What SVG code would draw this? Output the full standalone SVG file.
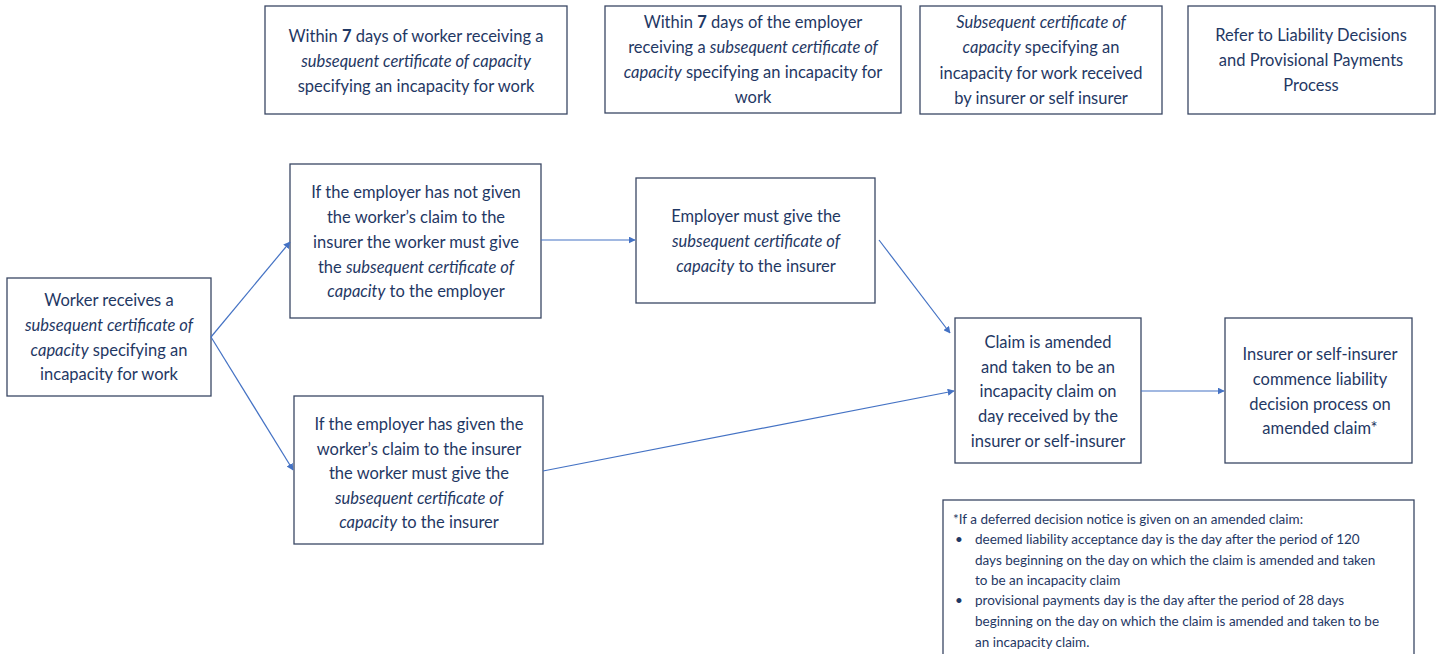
<svg xmlns="http://www.w3.org/2000/svg" width="1442" height="654" viewBox="0 0 1442 654">
  <defs>
    <marker id="arrow" viewBox="0 0 10 10" refX="9" refY="5" markerWidth="7" markerHeight="7" markerUnits="userSpaceOnUse" orient="auto">
      <path d="M0,0 L10,5 L0,10 z" fill="#4472c4"/>
    </marker>
    <style>
      .box { fill: #ffffff; stroke: #3a4764; stroke-width: 1.3; }
      .t { font-family: Lato, "Liberation Sans", sans-serif; font-size: 16.5px; fill: #1f3864; text-anchor: middle; }
      .n { font-family: Lato, "Liberation Sans", sans-serif; font-size: 13.5px; fill: #1f3864; }
      .i { font-style: italic; }
      .b { font-weight: bold; }
      .edge { stroke: #4472c4; stroke-width: 1.2; fill: none; marker-end: url(#arrow); }
    </style>
  </defs>
  <rect width="1442" height="654" fill="#ffffff"/>

  <!-- timeframe headers -->
  <g id="hdr-worker">
    <rect class="box" x="265" y="6" width="302" height="108"/>
    <text class="t" x="416" y="42">Within <tspan class="b">7</tspan> days of worker receiving a</text>
    <text class="t" x="416" y="67"><tspan class="i">subsequent certificate of capacity</tspan></text>
    <text class="t" x="416" y="92">specifying an incapacity for work</text>
  </g>
  <g id="hdr-employer">
    <rect class="box" x="605" y="6" width="296" height="107"/>
    <text class="t" x="753" y="28">Within <tspan class="b">7</tspan> days of the employer</text>
    <text class="t" x="753" y="53">receiving a <tspan class="i">subsequent certificate of</tspan></text>
    <text class="t" x="753" y="78"><tspan class="i">capacity</tspan> specifying an incapacity for</text>
    <text class="t" x="753" y="103">work</text>
  </g>
  <g id="hdr-insurer">
    <rect class="box" x="920" y="6" width="242" height="108"/>
    <text class="t" x="1041" y="28"><tspan class="i">Subsequent certificate of</tspan></text>
    <text class="t" x="1041" y="53"><tspan class="i">capacity</tspan> specifying an</text>
    <text class="t" x="1041" y="79">incapacity for work received</text>
    <text class="t" x="1041" y="104">by insurer or self insurer</text>
  </g>
  <g id="hdr-refer">
    <rect class="box" x="1188" y="6" width="247" height="108"/>
    <text class="t" x="1311" y="41">Refer to Liability Decisions</text>
    <text class="t" x="1311" y="66">and Provisional Payments</text>
    <text class="t" x="1311" y="91">Process</text>
  </g>

  <!-- process steps -->
  <g id="worker-receives">
    <rect class="box" x="7" y="278" width="204" height="118"/>
    <text class="t" x="109" y="306">Worker receives a</text>
    <text class="t" x="109" y="331"><tspan class="i">subsequent certificate of</tspan></text>
    <text class="t" x="109" y="356"><tspan class="i">capacity</tspan> specifying an</text>
    <text class="t" x="109" y="380">incapacity for work</text>
  </g>
  <g id="not-given">
    <rect class="box" x="290" y="164" width="251" height="154"/>
    <text class="t" x="416" y="198">If the employer has not given</text>
    <text class="t" x="416" y="223">the worker’s claim to the</text>
    <text class="t" x="416" y="248">insurer the worker must give</text>
    <text class="t" x="416" y="273">the <tspan class="i">subsequent certificate of</tspan></text>
    <text class="t" x="416" y="297"><tspan class="i">capacity</tspan> to the employer</text>
  </g>
  <g id="employer-gives">
    <rect class="box" x="636" y="178" width="239" height="125"/>
    <text class="t" x="756" y="222">Employer must give the</text>
    <text class="t" x="756" y="247"><tspan class="i">subsequent certificate of</tspan></text>
    <text class="t" x="756" y="272"><tspan class="i">capacity</tspan> to the insurer</text>
  </g>
  <g id="has-given">
    <rect class="box" x="294" y="396" width="249" height="148"/>
    <text class="t" x="419" y="430">If the employer has given the</text>
    <text class="t" x="419" y="455">worker’s claim to the insurer</text>
    <text class="t" x="419" y="479">the worker must give the</text>
    <text class="t" x="419" y="504"><tspan class="i">subsequent certificate of</tspan></text>
    <text class="t" x="419" y="528"><tspan class="i">capacity</tspan> to the insurer</text>
  </g>
  <g id="claim-amended">
    <rect class="box" x="955" y="318" width="186" height="145"/>
    <text class="t" x="1048" y="348">Claim is amended</text>
    <text class="t" x="1048" y="373">and taken to be an</text>
    <text class="t" x="1048" y="397">incapacity claim on</text>
    <text class="t" x="1048" y="422">day received by the</text>
    <text class="t" x="1048" y="447">insurer or self-insurer</text>
  </g>
  <g id="liability-decision">
    <rect class="box" x="1225" y="318" width="187" height="145"/>
    <text class="t" x="1320" y="360">Insurer or self-insurer</text>
    <text class="t" x="1320" y="385">commence liability</text>
    <text class="t" x="1320" y="410">decision process on</text>
    <text class="t" x="1320" y="434">amended claim*</text>
  </g>

  <!-- footnote -->
  <g id="footnote">
    <rect class="box" x="943" y="500" width="471" height="160"/>
    <text class="n" x="953" y="524">*If a deferred decision notice is given on an amended claim:</text>
    <text class="n" x="955" y="544">•</text>
    <text class="n" x="975" y="544">deemed liability acceptance day is the day after the period of 120</text>
    <text class="n" x="975" y="565">days beginning on the day on which the claim is amended and taken</text>
    <text class="n" x="975" y="585">to be an incapacity claim</text>
    <text class="n" x="955" y="605">•</text>
    <text class="n" x="975" y="605">provisional payments day is the day after the period of 28 days</text>
    <text class="n" x="975" y="626">beginning on the day on which the claim is amended and taken to be</text>
    <text class="n" x="975" y="647">an incapacity claim.</text>
  </g>

  <!-- connectors -->
  <g id="connectors">
    <line class="edge" x1="211" y1="337" x2="290" y2="242"/>
    <line class="edge" x1="211" y1="337" x2="293" y2="470"/>
    <line class="edge" x1="541" y1="240" x2="635" y2="240"/>
    <line class="edge" x1="879" y1="240" x2="950" y2="333"/>
    <line class="edge" x1="543" y1="471" x2="954" y2="391"/>
    <line class="edge" x1="1141" y1="391" x2="1224" y2="391"/>
  </g>
</svg>
